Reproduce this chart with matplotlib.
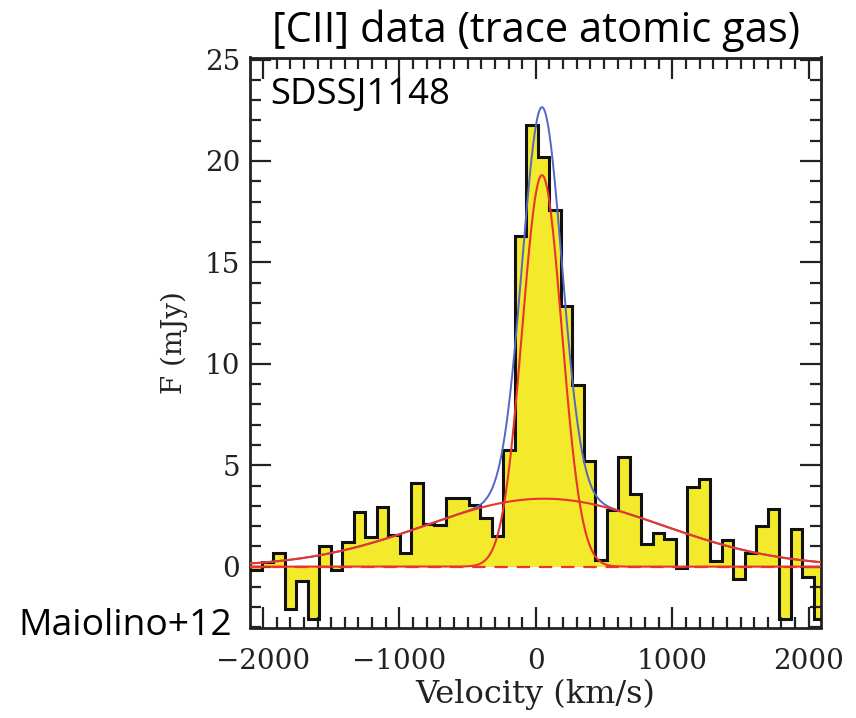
import numpy as np
import matplotlib
matplotlib.use("Agg")
import matplotlib.pyplot as plt
from matplotlib.ticker import MultipleLocator

# ---- data ----
bin_start = -2092.0      # km/s, left edge of first channel
bin_width = 84.3         # km/s
flux = [-0.16, 0.25, 0.69, -2.1, -0.7, -2.6, 1.02, -0.16, 1.2, 2.71,
        1.48, 2.96, 1.56, 0.66, 4.1, 2.09, 2.05, 3.37, 3.37, 3.04,
        2.38, 1.53, 5.75, 16.3, 21.75, 20.2, 17.6, 12.85, 8.95, 5.2,
        0.33, 2.79, 5.39, 3.58, 1.12, 1.64, 1.35, -0.08, 3.91, 4.32,
        0.28, 1.31, -0.6, 0.69, 2.0, 2.83, -2.6, 1.86, -0.49, -2.6]

# Gaussian fit components (amplitude mJy, centre km/s, sigma km/s)
narrow_amp, narrow_cen, narrow_sig = 19.3, 45.0, 145.0
broad_amp, broad_cen, broad_sig = 3.35, 60.0, 870.0

x_ticks = [-2000, -1000, 0, 1000, 2000]
y_ticks = [0, 5, 10, 15, 20, 25]

title = "[CII] data (trace atomic gas)"
object_name = "SDSSJ1148"
reference = "Maiolino+12"

# ---- figure ----
W, H = 856, 718
fig = plt.figure(figsize=(W / 100, H / 100), dpi=100)
ax = fig.add_axes([250 / W, (H - 627.5) / H, 571 / W, 570 / H])

edges = bin_start + bin_width * np.arange(len(flux) + 1)
vals = np.array(flux)

ax.stairs(vals, edges, baseline=0, fill=True, color="#F2EA2B", lw=0, zorder=1)
ax.stairs(vals, edges, baseline=None, fill=False, color="#111111", lw=2.2, zorder=3)

v = np.linspace(-2200, 2200, 2000)
narrow = narrow_amp * np.exp(-0.5 * ((v - narrow_cen) / narrow_sig) ** 2)
broad = broad_amp * np.exp(-0.5 * ((v - broad_cen) / broad_sig) ** 2)
ax.plot(v, narrow + broad, color="#5566C4", lw=1.4, zorder=4)
ax.plot(v, narrow, color="#E8362B", lw=1.5, zorder=5)
ax.plot(v, broad, color="#E8362B", lw=1.5, zorder=5)
ax.axhline(0, color="#E8362B", lw=1.6, ls=(0, (6, 4)), zorder=5)

ax.set_xlim(-2095, 2090)
ax.set_ylim(-3, 25.1)

serif = "DejaVu Serif"
ax.set_xticks(x_ticks)
ax.set_yticks(y_ticks)
ax.set_xticklabels(["\u2212" + str(abs(t)) if t < 0 else str(t) for t in x_ticks],
                   family=serif, fontsize=20, color="#222222")
ax.set_yticklabels([str(t) for t in y_ticks], family=serif, fontsize=20, color="#222222")
ax.xaxis.set_minor_locator(MultipleLocator(100))
ax.yaxis.set_minor_locator(MultipleLocator(1))
ax.tick_params(which="both", direction="in", top=True, right=True, colors="#222222")
ax.tick_params(which="major", length=15, width=1.6)
ax.tick_params(which="minor", length=8, width=1.6)
ax.tick_params(axis="x", which="major", pad=15)
ax.tick_params(axis="y", which="major", pad=7)
for s in ax.spines.values():
    s.set_linewidth(2.0)
    s.set_color("#222222")

ax.set_xlabel("Velocity (km/s)", family=serif, fontsize=23, color="#222222")
ax.xaxis.set_label_coords(0.5, (627.5 - 694) / 570)
ax.xaxis.label.set_va("center")
ax.set_ylabel("F (mJy)", family=serif, fontsize=20, color="#222222")
ax.yaxis.set_label_coords((174 - 250) / 571, 0.5)
ax.yaxis.label.set_va("center")

sans = "Open Sans"
fig.text(536 / W, 1 - 42 / H, title, ha="center", va="baseline",
         family=sans, fontsize=30, color="black")
ax.text((270 - 250) / 571, (627.5 - 104) / 570, object_name, transform=ax.transAxes,
        ha="left", va="baseline", family=sans, fontsize=26.3, color="black")
fig.text(18 / W, 1 - 635 / H, reference, ha="left", va="baseline",
         family=sans, fontsize=26.8, color="black")

fig.savefig("out.png", dpi=100, facecolor="white")
